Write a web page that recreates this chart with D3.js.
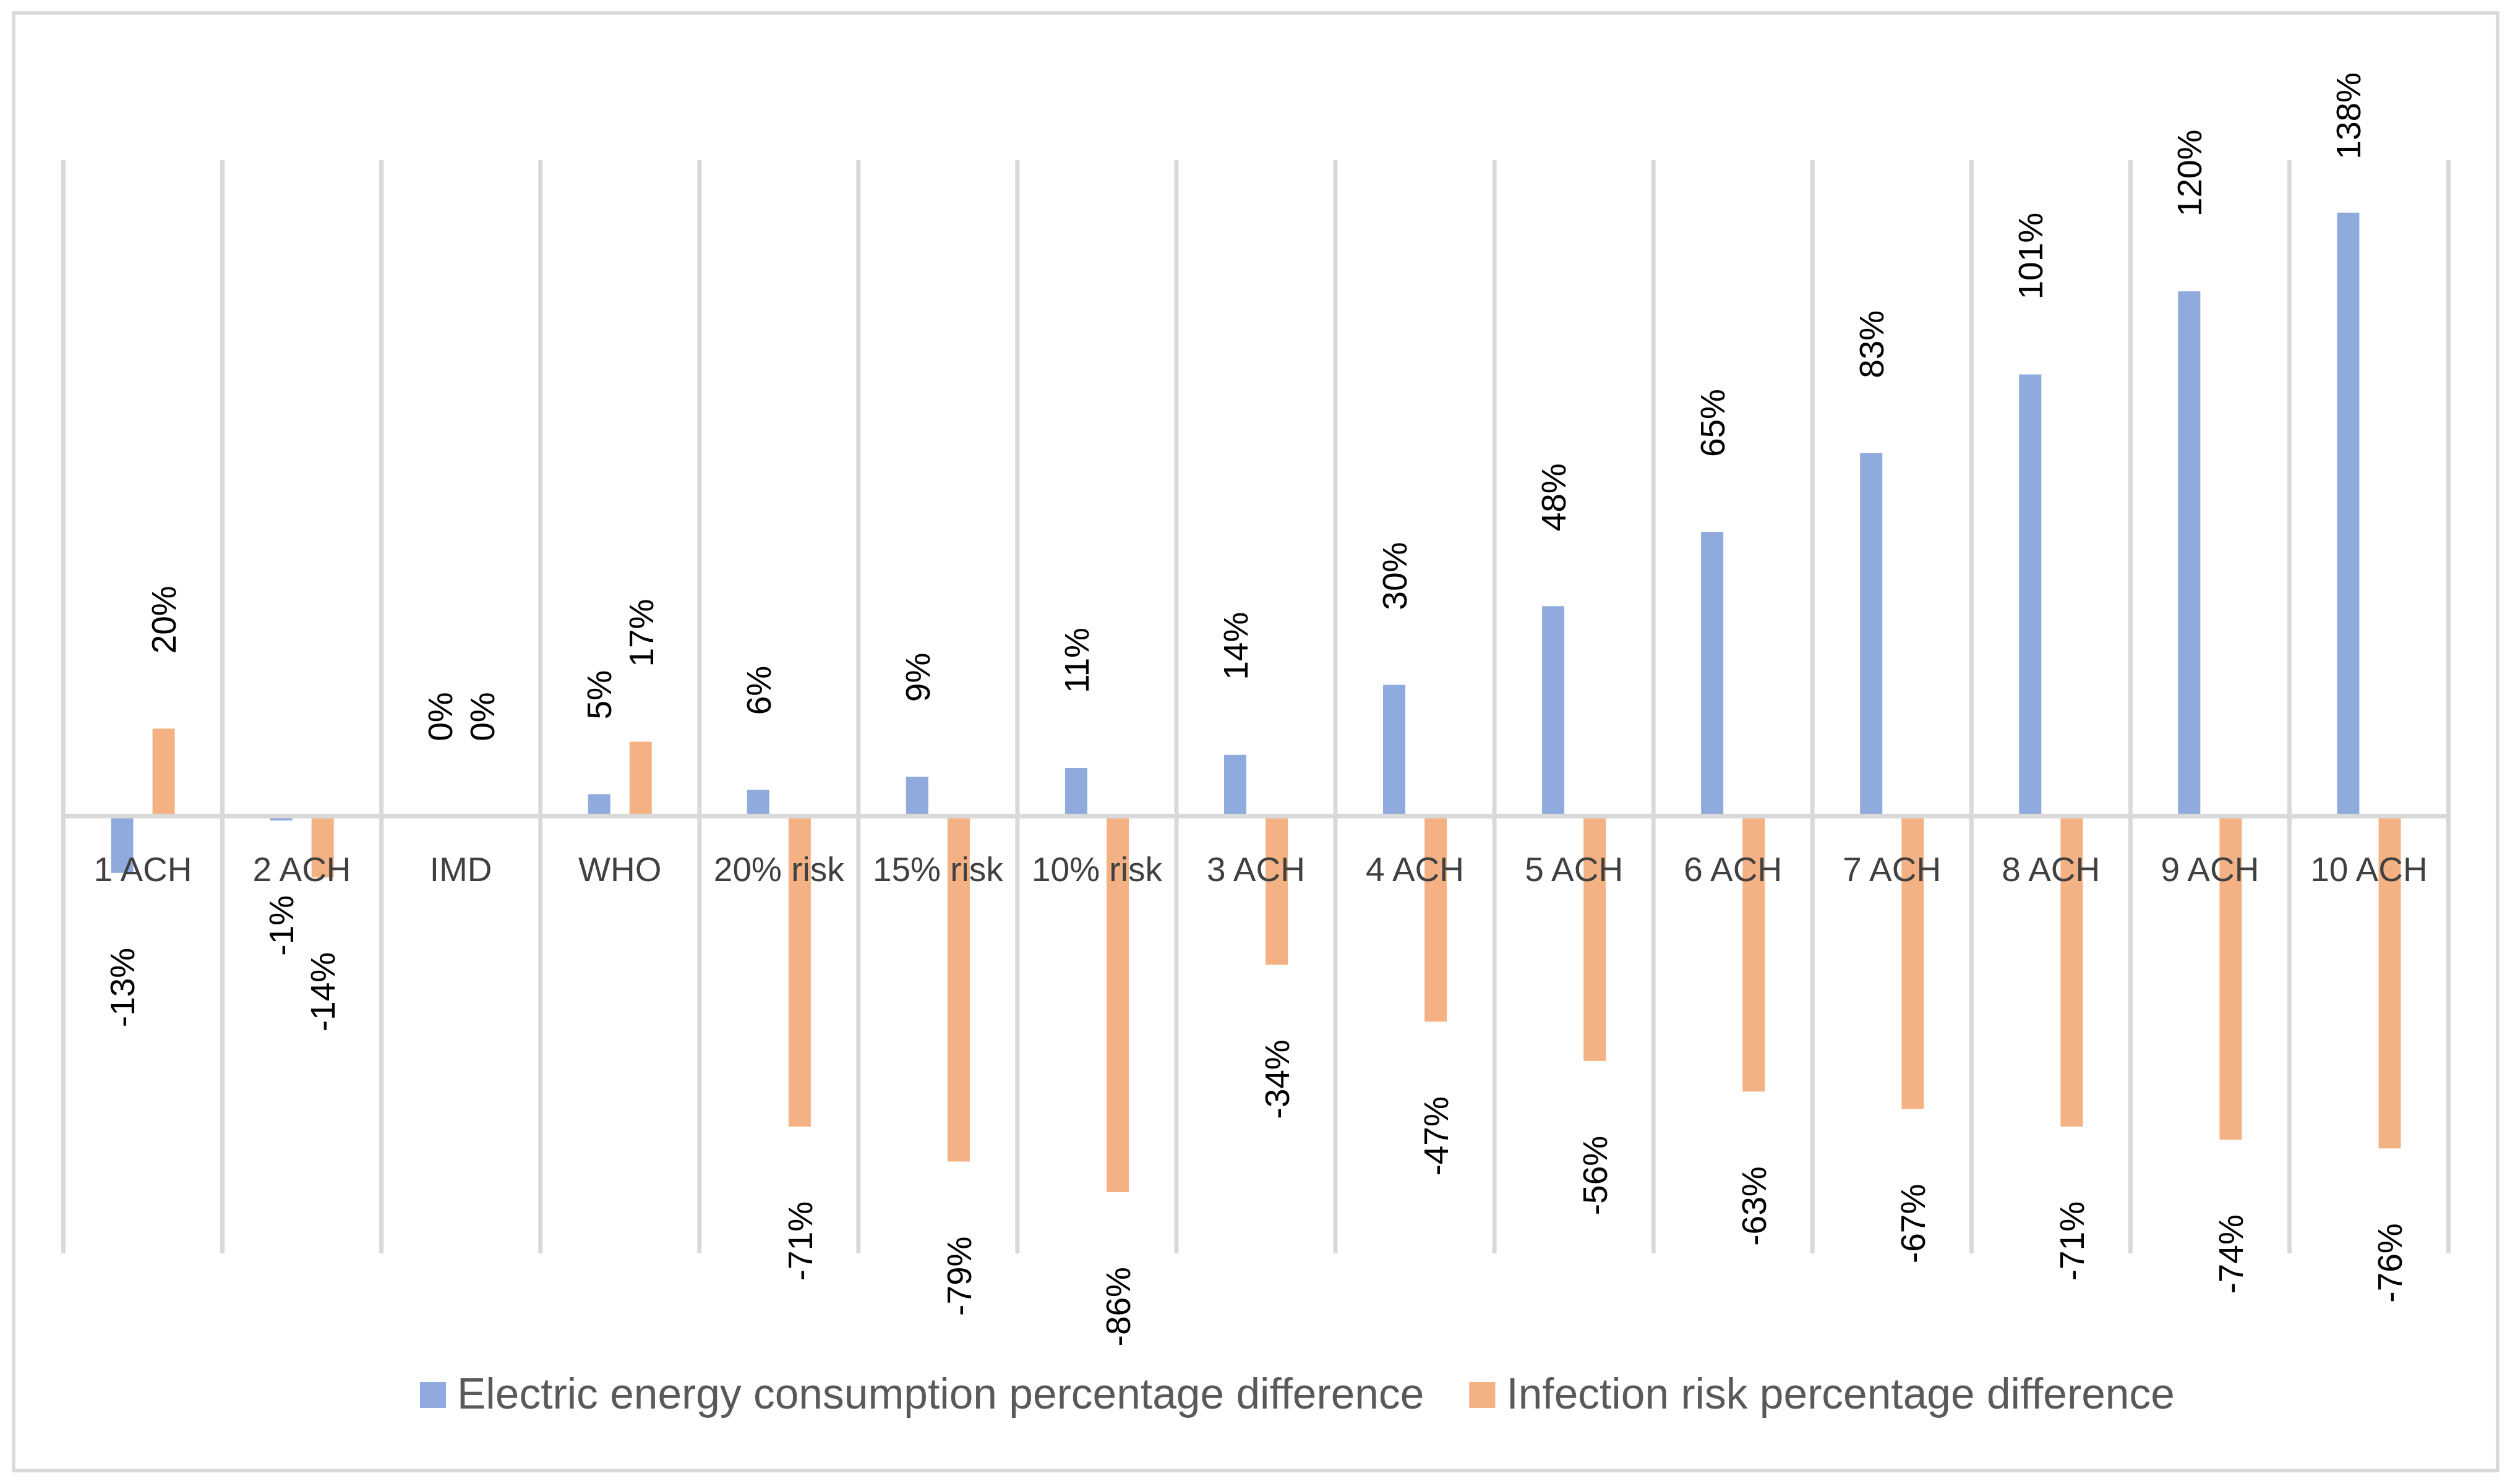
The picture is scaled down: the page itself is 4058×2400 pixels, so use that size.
<!DOCTYPE html>
<html>
<head>
<meta charset="utf-8">
<script src="https://cdn.jsdelivr.net/npm/d3@7"></script>
<style>
  html, body { margin: 0; padding: 0; background: #ffffff; }
  svg { display: block; }
</style>
</head>
<body>
<svg id="chart" width="4058" height="2400"></svg>
<script>
// ---- data ----
const categories = ["1 ACH", "2 ACH", "IMD", "WHO", "20% risk", "15% risk", "10% risk",
  "3 ACH", "4 ACH", "5 ACH", "6 ACH", "7 ACH", "8 ACH", "9 ACH", "10 ACH"];
const energyDiff = [-13, -1, 0, 5, 6, 9, 11, 14, 30, 48, 65, 83, 101, 120, 138];
const infectionDiff = [20, -14, 0, 17, -71, -79, -86, -34, -47, -56, -63, -67, -71, -74, -76];
const seriesNames = ["Electric energy consumption percentage difference",
  "Infection risk percentage difference"];
const seriesColors = ["#8faadc", "#f4b183"];
const yDomain = [-100, 150];

// ---- layout ----
const W = 4058, H = 2400;
const plot = { left: 102.5, right: 3958.5, top: 259, bottom: 2027 };
const gridColor = "#d9d9d9";
const labelFont = "'Liberation Sans', Arial, sans-serif";

const svg = d3.select("#chart");
svg.append("rect").attr("width", W).attr("height", H).attr("fill", "#ffffff");

// outer border
svg.append("rect")
  .attr("x", 22).attr("y", 21).attr("width", 4038 - 22).attr("height", 2378.5 - 21)
  .attr("fill", "none").attr("stroke", gridColor).attr("stroke-width", 5.5);

const x = d3.scaleBand().domain(categories).range([plot.left, plot.right]).padding(0);
const y = d3.scaleLinear().domain(yDomain).range([plot.bottom, plot.top]);
const bw = x.bandwidth();

// vertical category gridlines
const boundaries = categories.map(c => x(c)).concat([x(categories[categories.length - 1]) + bw]);
svg.append("g").selectAll("line").data(boundaries).join("line")
  .attr("x1", d => d).attr("x2", d => d)
  .attr("y1", plot.top).attr("y2", plot.bottom)
  .attr("stroke", gridColor).attr("stroke-width", 7);

// bars
const barW = bw * 0.14;
const offsets = [-bw * 0.1305, bw * 0.1305];
const series = [energyDiff, infectionDiff];
const barData = [];
series.forEach((vals, si) => {
  vals.forEach((v, i) => barData.push({ si, cat: categories[i], v }));
});
const cx = d => x(d.cat) + bw / 2 + offsets[d.si];

svg.append("g").selectAll("rect").data(barData).join("rect")
  .attr("x", d => cx(d) - barW / 2)
  .attr("y", d => Math.min(y(d.v), y(0)))
  .attr("width", barW)
  .attr("height", d => Math.abs(y(d.v) - y(0)))
  .attr("fill", d => seriesColors[d.si]);

// zero axis line
svg.append("line")
  .attr("x1", plot.left - 3.5).attr("x2", plot.right + 3.5)
  .attr("y1", y(0)).attr("y2", y(0))
  .attr("stroke", gridColor).attr("stroke-width", 7.5);

// category labels via axis
const xAxis = d3.axisBottom(x).tickSize(0).tickPadding(0);
const axG = svg.append("g").attr("transform", `translate(0, 1425)`).call(xAxis);
axG.select(".domain").remove();
axG.selectAll("text")
  .attr("y", 0).attr("dy", 0)
  .attr("font-family", labelFont).attr("font-size", 55)
  .attr("fill", "#404040");

// data labels (rotated)
const gap = 121;
const minTop = 117;
const dl = svg.append("g");
barData.forEach(d => {
  const t = dl.append("text")
    .attr("font-family", labelFont).attr("font-size", 55)
    .attr("fill", "#000000")
    .attr("dy", "0.36em")
    .text(d.v + "%");
  const len = t.node().getComputedTextLength();
  const end = y(d.v);
  let px = cx(d), py, anchor;
  if (d.v >= 0) {
    py = end - gap;
    if (py - len < minTop) py = minTop + len;
    anchor = "start";
  } else {
    py = end + gap;
    anchor = "end";
  }
  t.attr("text-anchor", anchor)
   .attr("transform", `translate(${px},${py}) rotate(-90)`);
});

// legend
const leg = svg.append("g");
let lx = 679;
seriesNames.forEach((name, i) => {
  leg.append("rect").attr("x", lx).attr("y", 2235).attr("width", 42).attr("height", 42)
    .attr("fill", seriesColors[i]);
  const t = leg.append("text").attr("x", lx + 60).attr("y", 2278)
    .attr("font-family", labelFont).attr("font-size", 69.5).attr("fill", "#595959")
    .text(name);
  lx = lx + 60 + t.node().getComputedTextLength() + 73;
});
</script>
</body>
</html>
